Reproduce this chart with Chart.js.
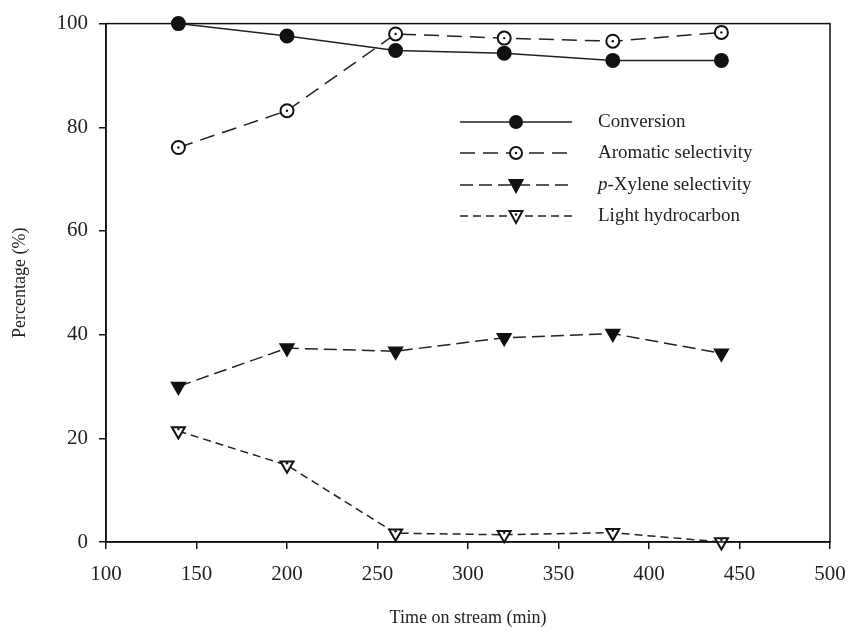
<!DOCTYPE html>
<html>
<head>
<meta charset="utf-8">
<script src="https://cdn.jsdelivr.net/npm/chart.js@4.4.1/dist/chart.umd.min.js"></script>
<style>
  html, body { margin: 0; padding: 0; background: #fff; }
  #wrap { width: 850px; height: 633px; }
</style>
</head>
<body>
<div id="wrap"><canvas id="chart" width="850" height="633"></canvas></div>
<script>
// Data
const timeOnStream = [140, 200, 260, 320, 380, 440];
const conversion = [100, 97.6, 94.8, 94.3, 92.9, 92.9];
const aromaticSel = [76.1, 83.2, 98.0, 97.2, 96.6, 98.3];
const pXyleneSel = [30.0, 37.4, 36.8, 39.4, 40.2, 36.4];
const lightHC = [21.4, 14.8, 1.7, 1.4, 1.8, 0];

const xTicks = [100, 150, 200, 250, 300, 350, 400, 450, 500];
const yTicks = [0, 20, 40, 60, 80, 100];

const FONT = "'Liberation Serif', 'DejaVu Serif', serif";

function toPoints(values) {
    return values.map((v, i) => ({ x: timeOnStream[i], y: v }));
}

const seriesStyle = [
    { label: 'Conversion', data: conversion, dash: [], style: 'circle', rot: 0, fill: '#111', dot: false },
    { label: 'Aromatic selectivity', data: aromaticSel, dash: [15, 8], style: 'circle', rot: 0, fill: '#fff', dot: true },
    { label: 'p-Xylene selectivity', data: pXyleneSel, dash: [13, 6], style: 'triangle', rot: 180, fill: '#111', dot: false },
    { label: 'Light hydrocarbon', data: lightHC, dash: [8, 5], style: 'triangle', rot: 180, fill: '#fff', dot: true }
];

const datasets = seriesStyle.map(s => ({
    label: s.label,
    data: toPoints(s.data),
    borderColor: '#222',
    borderWidth: 1.5,
    borderDash: s.dash,
    pointStyle: s.style,
    rotation: s.rot,
    pointRadius: s.style === 'circle' ? 6.5 : 7.5,
    pointBackgroundColor: s.fill,
    pointBorderColor: '#111',
    pointBorderWidth: 2,
    showDot: s.dot,
    clip: false,
    tension: 0
}));

// frame, centre dots and the legend
const extras = {
    id: 'extras',
    afterDatasetsDraw(chart) {
        const ctx = chart.ctx;
        const a = chart.chartArea;
        ctx.save();
        ctx.strokeStyle = '#111';
        ctx.lineWidth = 1.5;
        ctx.strokeRect(a.left, a.top, a.right - a.left, a.bottom - a.top);

        chart.data.datasets.forEach((ds, i) => {
            if (!ds.showDot) return;
            const meta = chart.getDatasetMeta(i);
            meta.data.forEach(pt => {
                const dy = ds.pointStyle === 'triangle' ? -2 : 0;
                ctx.fillStyle = '#111';
                ctx.beginPath();
                ctx.arc(pt.x, pt.y + dy, 1.2, 0, Math.PI * 2);
                ctx.fill();
            });
        });

        // legend
        const lx0 = 460, lx1 = 572, tx = 598;
        const rows = [122, 153, 185, 216];
        ctx.font = "19px " + FONT;
        ctx.textBaseline = 'middle';
        chart.data.datasets.forEach((ds, i) => {
            const y = rows[i];
            ctx.strokeStyle = '#222';
            ctx.lineWidth = 1.5;
            ctx.setLineDash(ds.borderDash);
            ctx.beginPath();
            ctx.moveTo(lx0, y);
            ctx.lineTo(lx1, y);
            ctx.stroke();
            ctx.setLineDash([]);
            const cx = (lx0 + lx1) / 2;
            ctx.fillStyle = ds.pointBackgroundColor;
            ctx.strokeStyle = '#111';
            ctx.lineWidth = 2;
            ctx.beginPath();
            if (ds.pointStyle === 'circle') {
                ctx.arc(cx, y, 6, 0, Math.PI * 2);
            } else {
                ctx.moveTo(cx - 6.5, y - 5);
                ctx.lineTo(cx + 6.5, y - 5);
                ctx.lineTo(cx, y + 7);
                ctx.closePath();
            }
            ctx.fill();
            ctx.stroke();
            if (ds.showDot) {
                ctx.fillStyle = '#111';
                ctx.beginPath();
                ctx.arc(cx, ds.pointStyle === 'triangle' ? y - 1.5 : y, 1.2, 0, Math.PI * 2);
                ctx.fill();
            }
            ctx.fillStyle = '#222';
            ctx.textAlign = 'left';
            if (ds.label.startsWith('p-')) {
                ctx.font = "italic 19px " + FONT;
                ctx.fillText('p', tx, y);
                const w = ctx.measureText('p').width;
                ctx.font = "19px " + FONT;
                ctx.fillText(ds.label.slice(1), tx + w, y);
            } else {
                ctx.fillText(ds.label, tx, y);
            }
        });
        ctx.restore();
    }
};

new Chart(document.getElementById('chart'), {
    type: 'line',
    data: { datasets: datasets },
    options: {
        responsive: false,
        animation: false,
        layout: { padding: { top: 22, right: 20, left: 0, bottom: 4 } },
        plugins: {
            legend: { display: false },
            tooltip: { enabled: false }
        },
        scales: {
            x: {
                type: 'linear',
                min: xTicks[0],
                max: xTicks[xTicks.length - 1],
                afterBuildTicks: axis => { axis.ticks = xTicks.map(v => ({ value: v })); },
                afterFit: axis => {
                    axis.height = 87;
                    axis.paddingLeft = 0;
                    axis.paddingRight = 0;
                },
                grid: { drawOnChartArea: false, drawTicks: true, tickLength: 7, color: '#111', lineWidth: 1.5 },
                border: { color: '#111', width: 1.5 },
                ticks: { color: '#222', font: { family: FONT, size: 21 }, padding: 13, maxRotation: 0 },
                title: { display: true, text: 'Time on stream (min)', color: '#222', font: { family: FONT, size: 18 }, padding: { top: 16, bottom: 0 } }
            },
            y: {
                min: yTicks[0],
                max: yTicks[yTicks.length - 1],
                afterBuildTicks: axis => { axis.ticks = yTicks.map(v => ({ value: v })); },
                afterFit: axis => { axis.width = 106; },
                grid: { drawOnChartArea: false, drawTicks: true, tickLength: 7, color: '#111', lineWidth: 1.5 },
                border: { color: '#111', width: 1.5 },
                ticks: { color: '#222', font: { family: FONT, size: 21 }, padding: 11 },
                title: { display: true, text: 'Percentage (%)', color: '#222', font: { family: FONT, size: 18 }, padding: { top: 9, bottom: 8 } }
            }
        }
    },
    plugins: [extras]
});
</script>
</body>
</html>
